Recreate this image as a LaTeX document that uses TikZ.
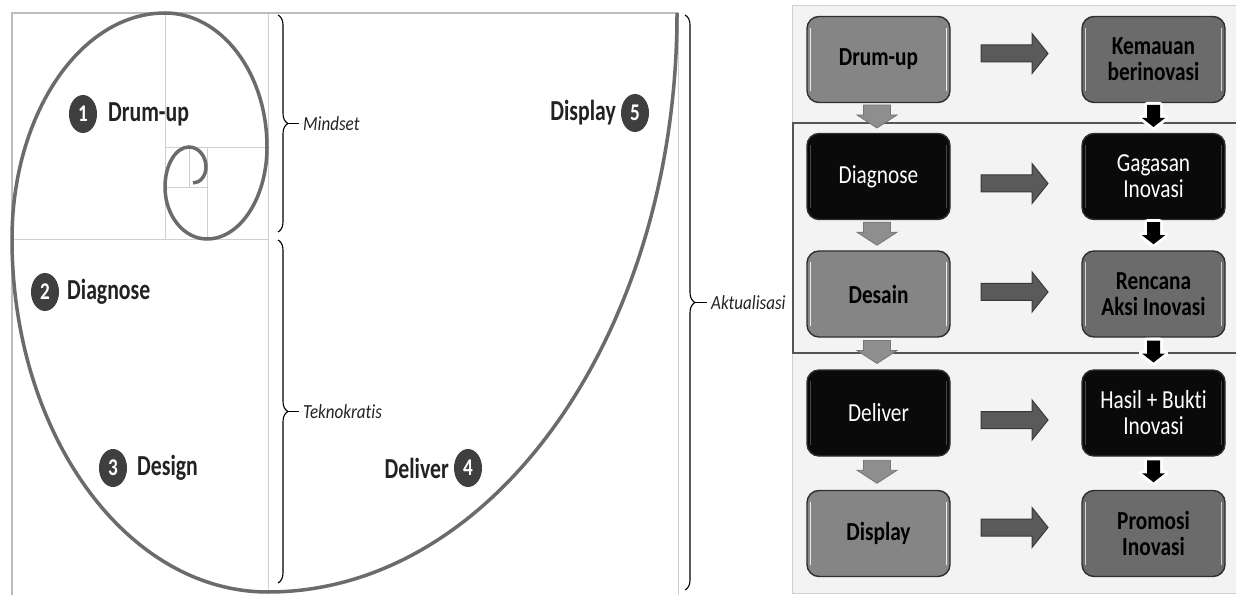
\documentclass[tikz,border=0pt]{standalone}
\usepackage{fontspec}
\setmainfont{Carlito}[Ligatures=NoCommon]
\usepackage{graphicx}
\usetikzlibrary{decorations.pathreplacing,calc,shapes.geometric}
\definecolor{spiralc}{HTML}{6B6B6B}
\definecolor{gridc}{HTML}{CFCFCF}
\definecolor{framec}{HTML}{BDBDBD}
\definecolor{circc}{HTML}{3F3F3F}
\definecolor{txtc}{HTML}{222222}
\definecolor{panelbg}{HTML}{F3F3F3}
\definecolor{boxgray}{HTML}{858585}
\definecolor{boxdark}{HTML}{6B6B6B}
\definecolor{boxblack}{HTML}{0A0A0A}
\definecolor{boxedge}{HTML}{2E2E2E}
\definecolor{harrc}{HTML}{5A5A5A}
\definecolor{harre}{HTML}{3A3A3A}
\definecolor{darrc}{HTML}{8E8E8E}
\definecolor{darre}{HTML}{767676}
\definecolor{panelframe}{HTML}{555555}
\newcommand{\hs}[2]{\scalebox{#1}[1]{#2}}
\begin{document}
\begin{tikzpicture}[x=1pt,y=1pt,
  gridl/.style={draw=gridc,line width=0.9pt},
  outerl/.style={draw=framec,line width=1.4pt},
  spiral/.style={draw=spiralc,line width=3.5pt},
  brc/.style={draw=black,line width=1.1pt,decorate,decoration={brace,amplitude=10pt,aspect=0.5}},
  numc/.style={ellipse,minimum width=28pt,minimum height=38pt,inner sep=0pt,fill=circc,text=white,font=\fontsize{24}{24}\selectfont\bfseries},
  steplbl/.style={inner sep=0pt,text=txtc,font=\fontsize{29}{30}\selectfont\bfseries},
  sidelbl/.style={inner sep=0pt,text=txtc,font=\fontsize{20}{22}\selectfont\itshape,anchor=west},
  box/.style={rounded corners=12pt,minimum width=143pt,minimum height=86pt,draw=boxedge,line width=1.4pt,inner sep=0pt,align=center},
  gbox/.style={box,fill=boxgray,text=black,font=\fontsize{26}{26}\selectfont\bfseries},
  dbox/.style={box,fill=boxdark,text=black,font=\fontsize{26}{26}\selectfont\bfseries},
  kbox/.style={box,fill=boxblack,text=white,font=\fontsize{26}{26}\selectfont},
  harr/.pic={\draw[fill=harrc,draw=harre,line width=1pt] (-33.5,-8.5) -- (17.5,-8.5) -- (17.5,-20) -- (33.5,0) -- (17.5,20) -- (17.5,8.5) -- (-33.5,8.5) -- cycle;},
  darr/.pic={\draw[fill=darrc,draw=darre,line width=0.8pt] (-13.5,13) -- (13.5,13) -- (13.5,3) -- (20,3) -- (0,-10) -- (-20,3) -- (-13.5,3) -- cycle;},
  karr/.pic={\draw[draw=white,line width=6pt,line join=round] (-6.5,13) -- (6.5,13) -- (6.5,0) -- (11.5,0) -- (0,-9) -- (-11.5,0) -- (-6.5,0) -- cycle;
             \fill[black] (-6.5,13) -- (6.5,13) -- (6.5,0) -- (11.5,0) -- (0,-9) -- (-11.5,0) -- (-6.5,0) -- cycle;}
]
\useasboundingbox (0,0) rectangle (1236,595);
\fill[white] (0,0) rectangle (1236,595);

% ---------- left panel: grid ----------
\draw[gridl] (268,582) -- (268,3);
\draw[gridl] (678,582) -- (678,0);
\draw[gridl] (12,356) -- (268,356);
\draw[gridl] (165,582) -- (165,356);
\draw[gridl] (165,448) -- (268,448);
\draw[gridl] (207,448) -- (207,356);
\draw[gridl] (165,408) -- (207,408);
\draw[gridl] (189,448) -- (189,408);
\draw[outerl] (12,0) -- (12,582) -- (678,582);

% ---------- spiral ----------
\draw[spiral] (677,582)
  arc[start angle=0,end angle=-90,x radius=409,y radius=579]
  arc[start angle=-90,end angle=-180,x radius=256,y radius=353]
  arc[start angle=180,end angle=90,x radius=153,y radius=226]
  arc[start angle=90,end angle=0,x radius=102,y radius=134]
  arc[start angle=0,end angle=-90,x radius=60,y radius=92]
  arc[start angle=-90,end angle=-180,x radius=42,y radius=52]
  arc[start angle=180,end angle=90,x radius=24,y radius=40]
  arc[start angle=90,end angle=0,x radius=17,y radius=20]
  arc[start angle=0,end angle=-90,x radius=13,y radius=16];

% ---------- numbered steps ----------
\node[numc] (n1) at (83,481) {\hs{0.8}{1}};
\node[steplbl,anchor=west] (l1) at (108,481) {\hs{0.75}{Drum-up}};
\node[numc] (n2) at (45,303) {\hs{0.8}{2}};
\node[steplbl,anchor=west] (l2) at (67,303) {\hs{0.75}{Diagnose}};
\node[numc] (n3) at (113,127) {\hs{0.8}{3}};
\node[steplbl,anchor=west] (l3) at (137,127) {\hs{0.75}{Design}};
\node[numc] (n4) at (468,127) {\hs{0.8}{4}};
\node[steplbl,anchor=east] (l4) at (449,127) {\hs{0.75}{Deliver}};
\node[numc] (n5) at (635,482) {\hs{0.8}{5}};
\node[steplbl,anchor=east] (l5) at (616,482) {\hs{0.75}{Display}};

% ---------- braces ----------
\draw[brc] (278,580) -- (278,363);
\coordinate (m1) at (288,471.5);
\node[sidelbl] (ms) at (303,471.5) {\hs{0.85}{Mindset}};
\draw[line width=1.1pt] (m1) -- ([xshift=-4pt]ms.west);
\draw[brc] (278,355) -- (278,12);
\coordinate (m2) at (288,183.5);
\node[sidelbl] (tk) at (303,183.5) {\hs{0.85}{Teknokratis}};
\draw[line width=1.1pt] (m2) -- ([xshift=-4pt]tk.west);
\draw[brc] (685,580) -- (685,5);
\coordinate (m3) at (695,292.5);
\node[sidelbl] (ak) at (711,292.5) {\hs{0.85}{Aktualisasi}};
\draw[line width=1.1pt] (m3) -- ([xshift=-4pt]ak.west);

% ---------- right panel ----------
\fill[panelbg,draw=gridc,line width=0.6pt] (792,2) rectangle (1240,590);
\draw[panelframe,line width=1.5pt] (1240,472) -- (793,472) -- (793,242) -- (1240,242);

\node[gbox] (a1) at (878.5,535.5) {\hs{0.82}{Drum-up}};
\node[dbox] (b1) at (1153.5,535.5) {\hs{0.82}{Kemauan}\\\hs{0.82}{berinovasi}};
\node[kbox] (a2) at (878.5,418.5) {\hs{0.82}{Diagnose}};
\node[kbox] (b2) at (1153.5,418.5) {\hs{0.82}{Gagasan}\\\hs{0.82}{Inovasi}};
\node[gbox] (a3) at (878.5,301) {\hs{0.82}{Desain}};
\node[dbox] (b3) at (1153.5,301) {\hs{0.82}{Rencana}\\\hs{0.82}{Aksi Inovasi}};
\node[kbox] (a4) at (878.5,182) {\hs{0.82}{Deliver}};
\node[kbox] (b4) at (1153.5,182) {\hs{0.82}{Hasil + Bukti}\\\hs{0.82}{Inovasi}};
\node[gbox] (a5) at (878.5,61.5) {\hs{0.82}{Display}};
\node[dbox] (b5) at (1153.5,61.5) {\hs{0.82}{Promosi}\\\hs{0.82}{Inovasi}};

% glossy highlights
\foreach \n/\o in {a1/0.85,b1/0.7,a3/0.85,b3/0.7,a5/0.85,b5/0.7,a2/0.25,b2/0.25,a4/0.25,b4/0.25}{
  \draw[white,line width=1.2pt,opacity=\o] ([shift={(4,-12)}]\n.north west) -- ([shift={(4,12)}]\n.south west);
  \draw[white,line width=1.2pt,opacity=\o] ([shift={(-4,-12)}]\n.north east) -- ([shift={(-4,12)}]\n.south east);
}

% horizontal arrows
\pic at ($(a1.east)!0.5!(b1.west)+(-1.5,6)$) {harr};
\pic at ($(a2.east)!0.5!(b2.west)+(-1.5,-7)$) {harr};
\pic at ($(a3.east)!0.5!(b3.west)+(-1.5,2)$) {harr};
\pic at ($(a4.east)!0.5!(b4.west)+(-1.5,-7)$) {harr};
\pic at ($(a5.east)!0.5!(b5.west)+(-1.5,6)$) {harr};

% vertical arrows, left column
\pic at ($(a1.south)!0.5!(a2.north)+(-1.5,0)$) {darr};
\pic at ($(a2.south)!0.5!(a3.north)+(-1.5,0)$) {darr};
\pic at ($(a3.south)!0.5!(a4.north)+(-1.5,0)$) {darr};
\pic at ($(a4.south)!0.5!(a5.north)+(-1.5,0)$) {darr};

% vertical arrows, right column
\pic at ($(b1.south)!0.5!(b2.north)$) {karr};
\pic at ($(b2.south)!0.5!(b3.north)$) {karr};
\pic at ($(b3.south)!0.5!(b4.north)$) {karr};
\pic at ($(b4.south)!0.5!(b5.north)$) {karr};
\end{tikzpicture}
\end{document}
